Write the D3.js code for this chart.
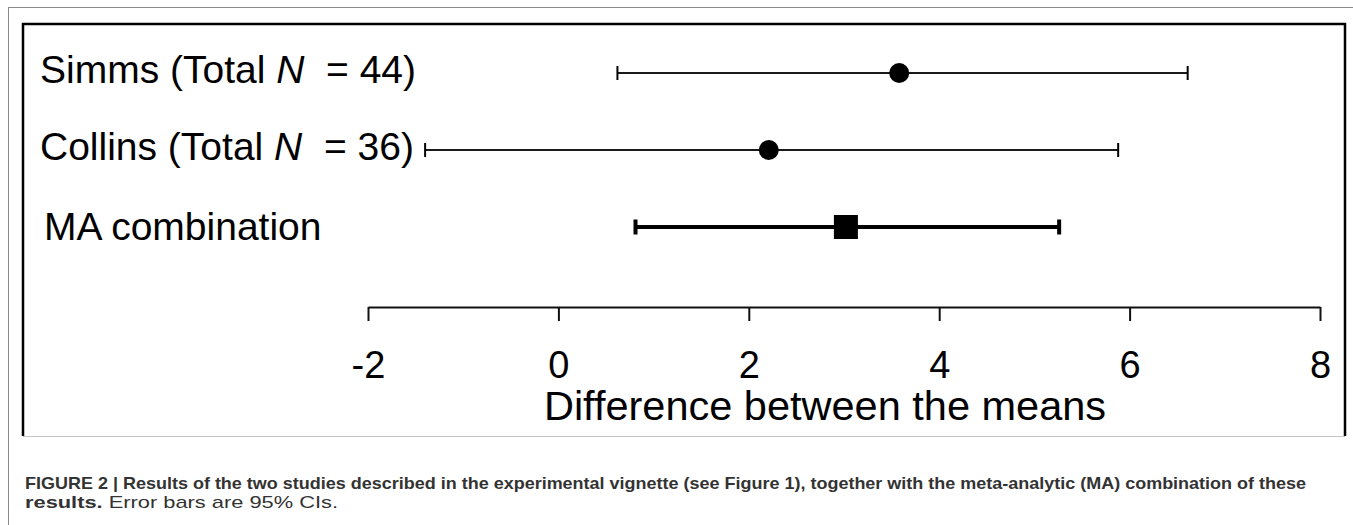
<!DOCTYPE html>
<html>
<head>
<meta charset="utf-8">
<script src="https://cdn.jsdelivr.net/npm/d3@7/dist/d3.min.js"></script>
<style>
  html, body { margin: 0; padding: 0; background: #fff; }
  svg { display: block; }
</style>
</head>
<body>
<script>
// Study results: mean difference with 95% CI
const studies = ["Simms", "Collins", "MA combination"];
const totalN = [44, 36, null];
const means = [3.58, 2.21, 3.02];
const lower = [0.62, -1.40, 0.81];
const upper = [6.61, 5.88, 5.26];
const tickValues = [-2, 0, 2, 4, 6, 8];
const axisTitle = "Difference between the means";
const captionBold1 = "FIGURE 2 | Results of the two studies described in the experimental vignette (see Figure 1), together with the meta-analytic (MA) combination of these";
const captionBold2 = "results.";
const captionRest2 = " Error bars are 95% CIs.";

const W = 1353, H = 525;
const rows = studies.map((s, i) => ({ name: s, n: totalN[i], mean: means[i], lo: lower[i], hi: upper[i], combined: i === studies.length - 1 }));

const svg = d3.select("body").append("svg").attr("width", W).attr("height", H);

const labelFont = "'Liberation Sans', Arial, Helvetica, sans-serif";

// page frame
svg.append("line").attr("x1", 8).attr("x2", W).attr("y1", 7.5).attr("y2", 7.5)
  .attr("stroke", "#8a8a8a").attr("stroke-width", 1);
svg.append("line").attr("x1", 8.5).attr("x2", 8.5).attr("y1", 7).attr("y2", H)
  .attr("stroke", "#8a8a8a").attr("stroke-width", 1);

// chart box
const box = { l: 23, t: 24, r: 1345, b: 436 };
svg.append("path")
  .attr("d", `M${box.l},${box.b}V${box.t}H${box.r}V${box.b}`)
  .attr("fill", "none").attr("stroke", "#000").attr("stroke-width", 2.5);
svg.append("line").attr("x1", box.l).attr("x2", box.r).attr("y1", box.b + 0.5).attr("y2", box.b + 0.5)
  .attr("stroke", "#c4c4c4").attr("stroke-width", 1);

// scales
const x = d3.scaleLinear().domain([-2, 8]).range([368, 1320]);
const y = d3.scalePoint().domain(studies).range([73, 227]);
const axisY = 307;

// x axis
const gx = svg.append("g").attr("transform", `translate(0,${axisY})`)
  .call(d3.axisBottom(x).tickValues(tickValues).tickSizeInner(14).tickSizeOuter(0).tickPadding(30)
    .tickFormat(d3.format("d")));
gx.select(".domain").attr("stroke", "#111").attr("stroke-width", 2);
gx.selectAll(".tick line").attr("stroke", "#111").attr("stroke-width", 2);
gx.selectAll(".tick text").attr("fill", "#000").attr("font-family", labelFont).attr("font-size", 38)
  .text(d => d < 0 ? "-" + Math.abs(d) : d);

svg.append("text").attr("x", 825).attr("y", 420)
  .attr("text-anchor", "middle").attr("font-family", labelFont).attr("font-size", 41.5)
  .attr("fill", "#000").text(axisTitle);

// row labels
const lab = svg.selectAll("text.rowlab").data(rows).enter().append("text")
  .attr("class", "rowlab")
  .attr("x", d => d.combined ? 44 : 40)
  .attr("y", d => y(d.name) + (d.combined ? 13 : 10))
  .attr("font-family", labelFont).attr("font-size", 39).attr("fill", "#000");
lab.each(function(d) {
  const t = d3.select(this);
  if (d.n == null) { t.text(d.name); return; }
  t.append("tspan").text(d.name + " (Total ");
  t.append("tspan").attr("font-style", "italic").text("N");
  t.append("tspan").text("\u00a0 = " + d.n + ")");
});

// confidence intervals
const ci = svg.selectAll("g.ci").data(rows).enter().append("g").attr("class", "ci");
ci.append("line")
  .attr("x1", d => x(d.lo)).attr("x2", d => x(d.hi))
  .attr("y1", d => y(d.name)).attr("y2", d => y(d.name))
  .attr("stroke", d => d.combined ? "#000" : "#1a1a1a")
  .attr("stroke-width", d => d.combined ? 4 : 2);
["lo", "hi"].forEach(k => {
  ci.append("line")
    .attr("x1", d => x(d[k])).attr("x2", d => x(d[k]))
    .attr("y1", d => y(d.name) - (d.combined ? 7.5 : 7))
    .attr("y2", d => y(d.name) + (d.combined ? 7.5 : 7))
    .attr("stroke", "#000")
    .attr("stroke-width", d => d.combined ? 4 : 2);
});

// point estimates
ci.filter(d => !d.combined).append("circle")
  .attr("cx", d => x(d.mean)).attr("cy", d => y(d.name)).attr("r", 10).attr("fill", "#000");
ci.filter(d => d.combined).append("rect")
  .attr("x", d => x(d.mean) - 12).attr("y", d => y(d.name) - 12)
  .attr("width", 24).attr("height", 24).attr("fill", "#000");

// caption
const capFont = "'Liberation Sans', Arial, sans-serif";
svg.append("text").attr("x", 25).attr("y", 489)
  .attr("font-family", capFont).attr("font-size", 17).attr("font-weight", "bold").attr("fill", "#333")
  .attr("textLength", 1281).attr("lengthAdjust", "spacingAndGlyphs")
  .text(captionBold1);
const cap2 = svg.append("text").attr("x", 25).attr("y", 508)
  .attr("font-family", capFont).attr("font-size", 17).attr("fill", "#333")
  .attr("textLength", 313).attr("lengthAdjust", "spacingAndGlyphs");
cap2.append("tspan").attr("font-weight", "bold").text(captionBold2);
cap2.append("tspan").text(captionRest2);
</script>
</body>
</html>
